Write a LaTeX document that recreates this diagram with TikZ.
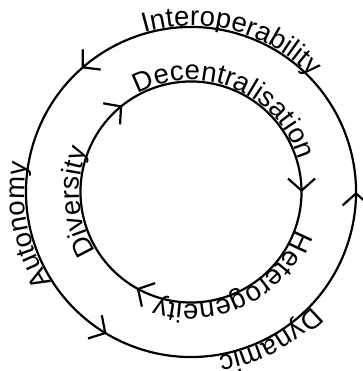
\documentclass[tikz,border=0pt]{standalone}
\usepackage{fontspec}
\setmainfont{Liberation Sans}
\usetikzlibrary{decorations.text,decorations.markings,arrows.meta}
\begin{document}
\begin{tikzpicture}[x=1pt,y=1pt,
  >={Straight Barb[length=12pt,width=27pt,line width=2.2pt]},
  ring/.style={line width=2.2pt},
  ringtext/.style={decorate,decoration={text along path,text align=center,
    raise=1.5pt,text={|\fontsize{27.5}{33}\selectfont|#1}}}]
\useasboundingbox (0,0) rectangle (362,371);
\coordinate (C) at (191,179);

% outer ring, arrows running counterclockwise
\draw[ring,postaction={decorate},decoration={markings,
    mark=at position 0.0556 with {\arrow{>}},
    mark=at position 0.4208 with {\arrow{>}},
    mark=at position 0.7200 with {\arrow{>}}}]
  (C) ++(-20:165pt) arc[start angle=-20,end angle=340,radius=165pt];

% inner ring, arrows running clockwise
\draw[ring,postaction={decorate},decoration={markings,
    mark=at position 0.0556 with {\arrow{>}},
    mark=at position 0.3872 with {\arrow{>}},
    mark=at position 0.6986 with {\arrow{>}}}]
  (C) ++(380:110.5pt) arc[start angle=380,end angle=20,radius=110.5pt];

% labels on the outer ring
\path[ringtext=Interoperability] (C) ++(145:165pt) arc[start angle=145,end angle=5,radius=165pt];
\path[ringtext=Autonomy] (C) ++(261.5:165pt) arc[start angle=261.5,end angle=121.5,radius=165pt];
\path[ringtext=Dynamic] (C) ++(368:165pt) arc[start angle=368,end angle=228,radius=165pt];

% labels on the inner ring
\path[ringtext=Decentralisation] (C) ++(137.5:110.5pt) arc[start angle=137.5,end angle=-2.5,radius=110.5pt];
\path[ringtext=Diversity] (C) ++(255:110.5pt) arc[start angle=255,end angle=115,radius=110.5pt];
\path[ringtext=Heterogeneity] (C) ++(366:110.5pt) arc[start angle=366,end angle=226,radius=110.5pt];
\end{tikzpicture}
\end{document}
